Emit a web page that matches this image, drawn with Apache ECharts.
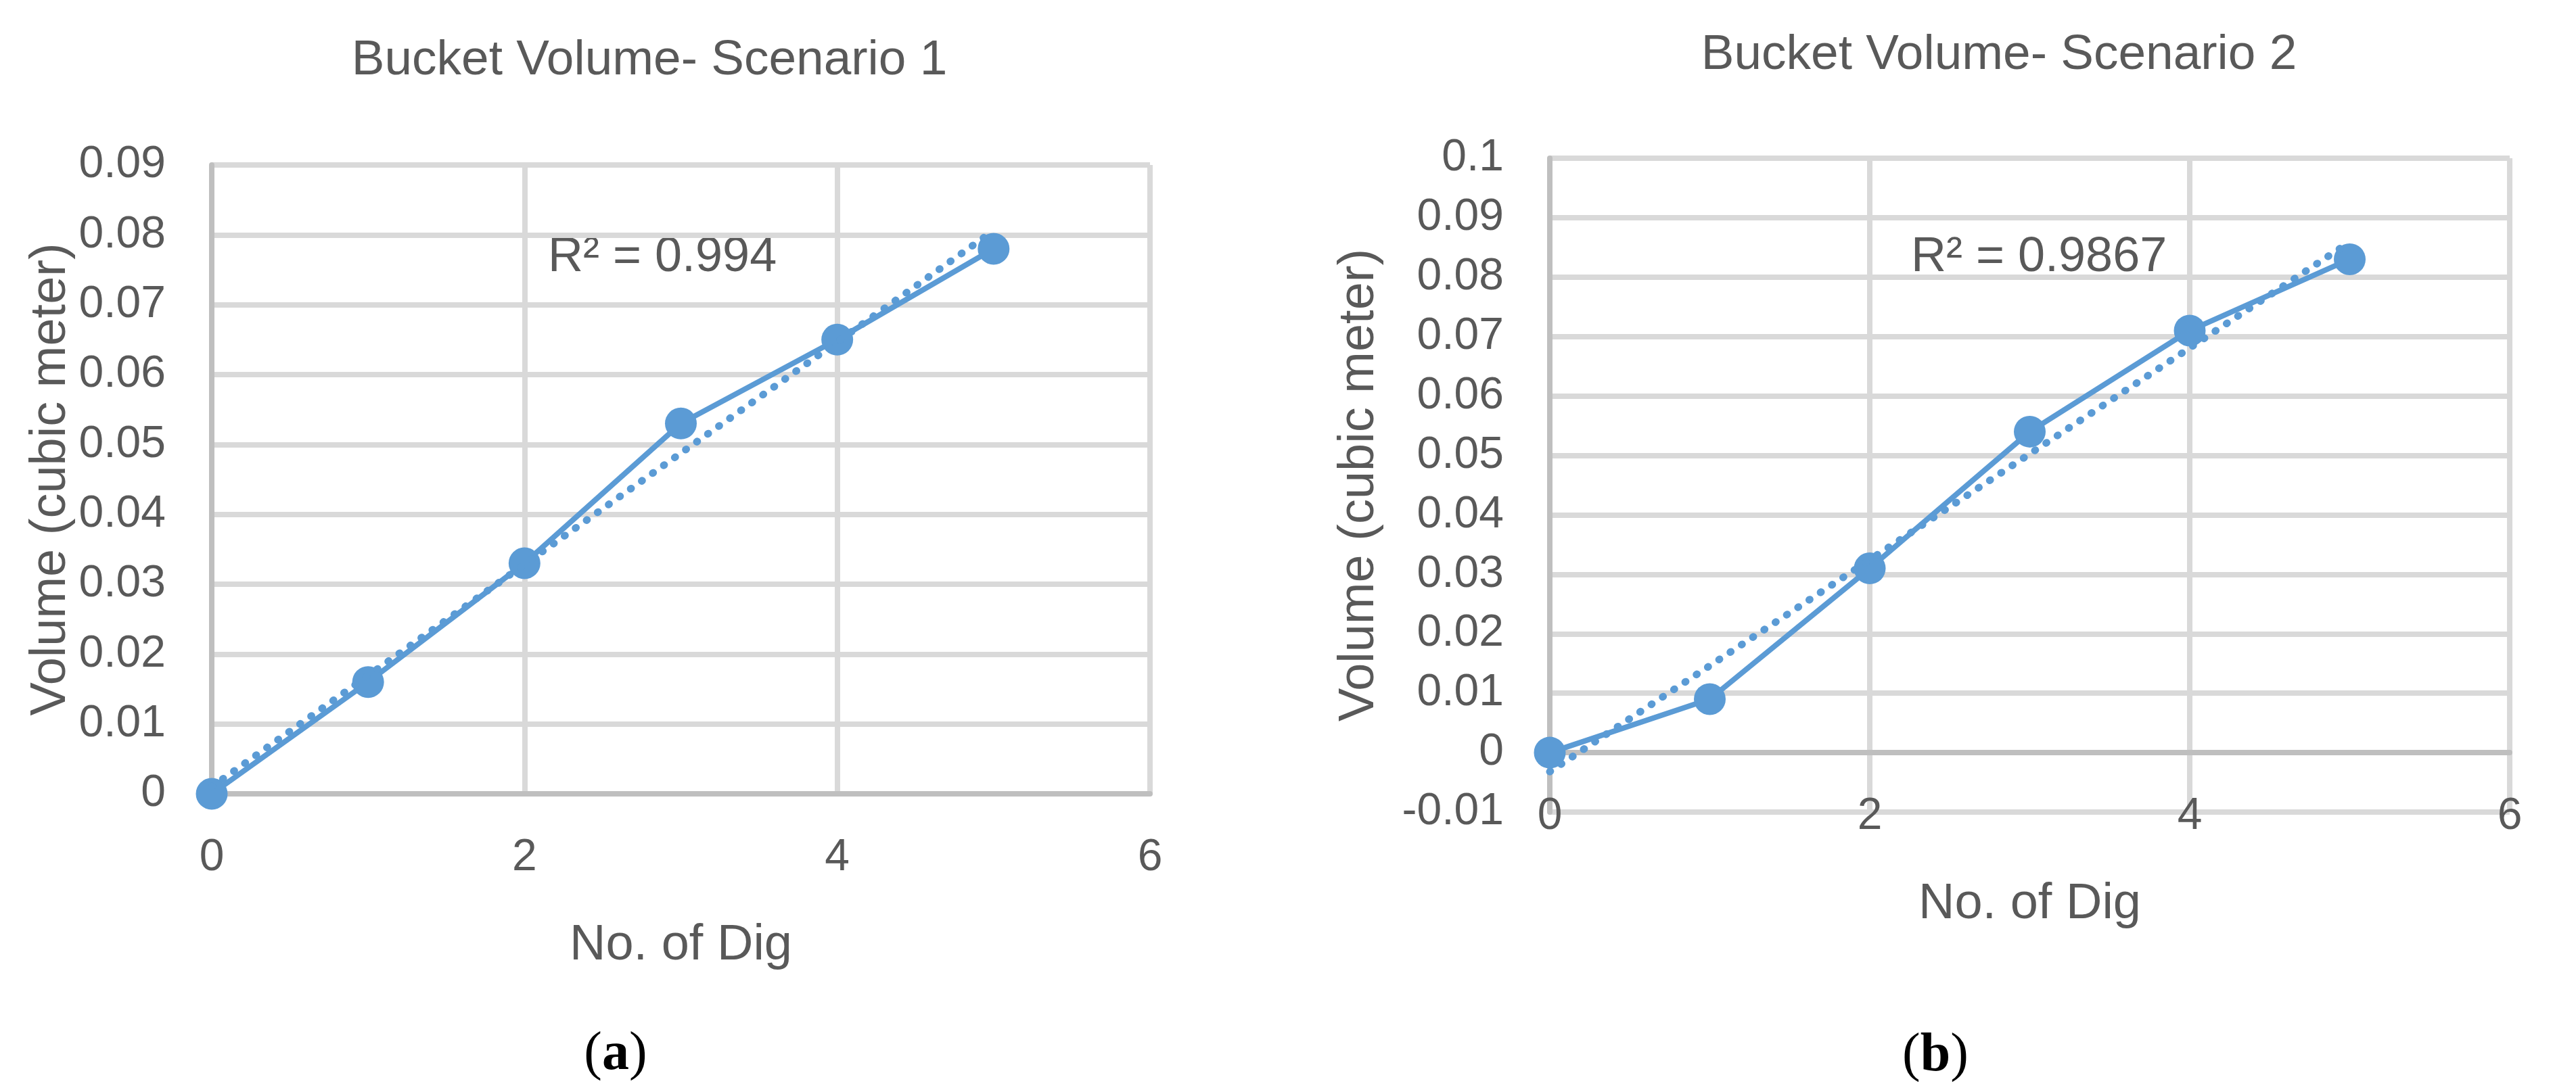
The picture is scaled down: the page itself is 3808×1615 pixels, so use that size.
<!DOCTYPE html>
<html><head><meta charset="utf-8">
<script src="https://cdn.jsdelivr.net/npm/echarts@6/dist/echarts.min.js"></script>
<style>html,body{margin:0;padding:0;background:#fff}#c{width:3808px;height:1615px}</style>
</head><body><div id="c"></div>
<script>
// ---- data ----
const digs = [0, 1, 2, 3, 4, 5];
const volumeA = [0, 0.016, 0.033, 0.053, 0.065, 0.078];
const volumeB = [0, 0.009, 0.031, 0.054, 0.071, 0.083];
const trendX = [0, 5];
const trendA = [0.0010, 0.0806];
const trendB = [-0.0032, 0.0859];
const xRange = [0, 6];
const xStep = 2;
const yRangeA = [0, 0.09];
const yRangeB = [-0.01, 0.1];
const yStep = 0.01;
const titles = ['Bucket Volume- Scenario 1', 'Bucket Volume- Scenario 2'];
const r2Labels = ['R² = 0.994', 'R² = 0.9867'];
const panelLetters = ['a', 'b'];
const xName = 'No. of Dig';
const yName = 'Volume (cubic meter)';

// ---- styling / layout ----
const FONT = "'Liberation Sans', Arial, sans-serif";
const TXT = '#595959';
const BLUE = '#5b9bd5';
const GRID = '#d9d9d9';
const AXIS = '#bfbfbf';
const gridA = { left: 313, top: 244, width: 1387, height: 930 };
const gridB = { left: 2291, top: 234, width: 1419, height: 967 };

// distance in px from the grid bottom up to the y=0 line (x axis sits on zero, like Excel)
function zeroOffset(g, range) {
  return g.height * (0 - range[0]) / (range[1] - range[0]);
}

function mkX(gi, g, range) {
  return {
    type: 'value', gridIndex: gi, min: xRange[0], max: xRange[1], interval: xStep,
    offset: -zeroOffset(g, range),
    axisLine: { show: true, onZero: false, lineStyle: { color: AXIS, width: 8 } },
    axisTick: { show: false },
    splitLine: { show: true, lineStyle: { color: GRID, width: 8 } },
    axisLabel: { color: TXT, fontSize: 66, fontFamily: FONT, margin: 62 },
    name: xName, nameLocation: 'middle', nameGap: 188,
    nameTextStyle: { color: TXT, fontSize: 74, fontFamily: FONT }
  };
}
function mkY(gi, range, gap) {
  return {
    type: 'value', gridIndex: gi, min: range[0], max: range[1], interval: yStep,
    axisLine: { show: true, onZero: false, lineStyle: { color: AXIS, width: 8 } },
    axisTick: { show: false },
    splitLine: { show: true, lineStyle: { color: GRID, width: 8 } },
    axisLabel: { color: TXT, fontSize: 66, fontFamily: FONT, margin: 68,
      formatter: v => String(+v.toFixed(2)) },
    name: yName, nameLocation: 'middle', nameGap: gap, nameRotate: 90,
    nameTextStyle: { color: TXT, fontSize: 74, fontFamily: FONT }
  };
}
function mainSeries(gi, vals) {
  return {
    type: 'line', xAxisIndex: gi, yAxisIndex: gi,
    data: digs.map((x, i) => [x, vals[i]]),
    symbol: 'circle', symbolSize: 47,
    lineStyle: { color: BLUE, width: 8 }, itemStyle: { color: BLUE },
    z: 3, silent: true
  };
}
function trendSeries(gi, vals) {
  return {
    type: 'line', xAxisIndex: gi, yAxisIndex: gi,
    data: trendX.map((x, i) => [x, vals[i]]),
    symbol: 'none',
    lineStyle: { color: BLUE, width: 11, type: [1, 19], cap: 'round' },
    z: 4, silent: true
  };
}
function txt(x, y, text, size, align) {
  return { type: 'text', x: x, y: y, silent: true,
    style: { text: text, fill: TXT, font: size + 'px ' + FONT,
      textAlign: align || 'center', textVerticalAlign: 'middle' } };
}
function panel(x, y, letter) {
  const serif = "'Liberation Serif', 'Times New Roman', serif";
  return { type: 'text', x: x, y: y, silent: true,
    style: { text: '{n|(}{b|' + letter + '}{n|)}', textAlign: 'center', textVerticalAlign: 'middle',
      rich: {
        n: { fontFamily: serif, fontSize: 80, fill: '#000' },
        b: { fontFamily: serif, fontSize: 80, fontWeight: 'bold', fill: '#000' }
      } } };
}

const chart = echarts.init(document.getElementById('c'), null, { renderer: 'canvas' });
chart.setOption({
  animation: false,
  backgroundColor: '#fff',
  grid: [
    Object.assign({ containLabel: false, outerBoundsMode: 'none' }, gridA),
    Object.assign({ containLabel: false, outerBoundsMode: 'none' }, gridB)
  ],
  xAxis: [mkX(0, gridA, yRangeA), mkX(1, gridB, yRangeB)],
  yAxis: [mkY(0, yRangeA, 200), mkY(1, yRangeB, 244)],
  series: [mainSeries(0, volumeA), trendSeries(0, trendA), mainSeries(1, volumeB), trendSeries(1, trendB)],
  graphic: [
    txt(960, 90, titles[0], 73),
    txt(2955, 82, titles[1], 73),
    txt(810, 381, r2Labels[0], 72, 'left'),
    txt(2825, 381, r2Labels[1], 72, 'left'),
    panel(910, 1560, panelLetters[0]),
    panel(2861, 1562, panelLetters[1])
  ]
});
</script></body></html>
